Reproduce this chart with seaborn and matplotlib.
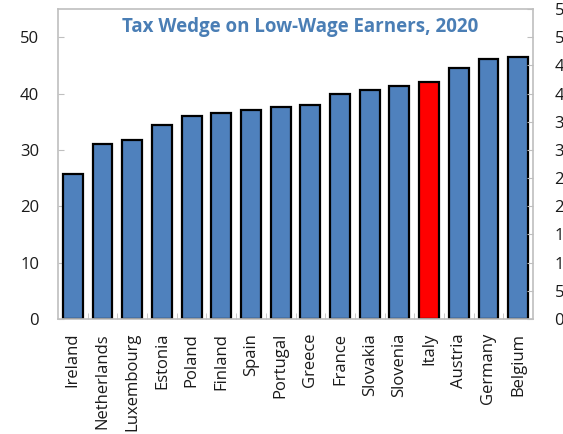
import matplotlib
matplotlib.use("Agg")
import matplotlib.pyplot as plt
import seaborn as sns
import pandas as pd
import numpy as np

countries = ["Ireland", "Netherlands", "Luxembourg", "Estonia", "Poland", "Finland",
             "Spain", "Portugal", "Greece", "France", "Slovakia", "Slovenia",
             "Italy", "Austria", "Germany", "Belgium"]
tax_wedge = [25.7, 31.0, 31.7, 34.4, 36.1, 36.6, 37.0, 37.7, 37.9, 40.0,
             40.7, 41.3, 42.1, 44.6, 46.2, 46.4]
highlight = "Italy"
left_ticks = [0, 10, 20, 30, 40, 50]
right_ticks = [0, 5, 10, 15, 20, 25, 30, 35, 40, 45, 50, 55]

blue = "#4F81BD"
red = "#FF0000"
spine_gray = "#BFBFBF"

sns.set_style("white")
plt.rcParams["font.family"] = ["Open Sans", "DejaVu Sans"]

df = pd.DataFrame({"country": countries, "value": tax_wedge})
palette = {c: (red if c == highlight else blue) for c in countries}

fig = plt.figure(figsize=(5.63, 4.34), dpi=100)
ax = fig.add_axes([58 / 563, 1 - 319 / 434, 475 / 563, 310 / 434])

sns.barplot(data=df, x="country", y="value", hue="country", palette=palette,
            width=0.67, edgecolor="black", linewidth=1.6, legend=False,
            saturation=1, ax=ax)

ax.set_xlim(-0.5, len(countries) - 0.5)
ax.set_ylim(0, 55)
ax.set_xlabel("")
ax.set_ylabel("")

ax.set_yticks(left_ticks)
ax.tick_params(axis="y", direction="in", length=4, color=spine_gray,
               labelsize=12, pad=13.5, labelcolor="#1a1a1a", left=True)
ax.set_xticks(range(len(countries)))
ax.set_xticklabels(countries, rotation=90)
ax.tick_params(axis="x", which="major", length=0, labelsize=12, pad=10,
               labelcolor="#1a1a1a")
ax.set_xticks(np.arange(0.5, len(countries) - 1, 1.0), minor=True)
ax.tick_params(axis="x", which="minor", direction="in", length=4,
               color=spine_gray, bottom=True)

for s in ax.spines.values():
    s.set_color(spine_gray)
    s.set_linewidth(1.2)

ax2 = ax.twinx()
ax2.set_ylim(ax.get_ylim())
ax2.set_yticks(right_ticks)
ax2.tick_params(axis="y", direction="in", length=4, color=spine_gray,
                labelsize=12, pad=15.5, labelcolor="#1a1a1a")
for s in ax2.spines.values():
    s.set_visible(False)

ax.text(0.5105, 0.927, "Tax Wedge on Low-Wage Earners, 2020", transform=ax.transAxes,
        ha="center", va="baseline", fontsize=13.5, fontweight="bold", color="#4A7EB5")

fig.savefig("out.png", dpi=100)
